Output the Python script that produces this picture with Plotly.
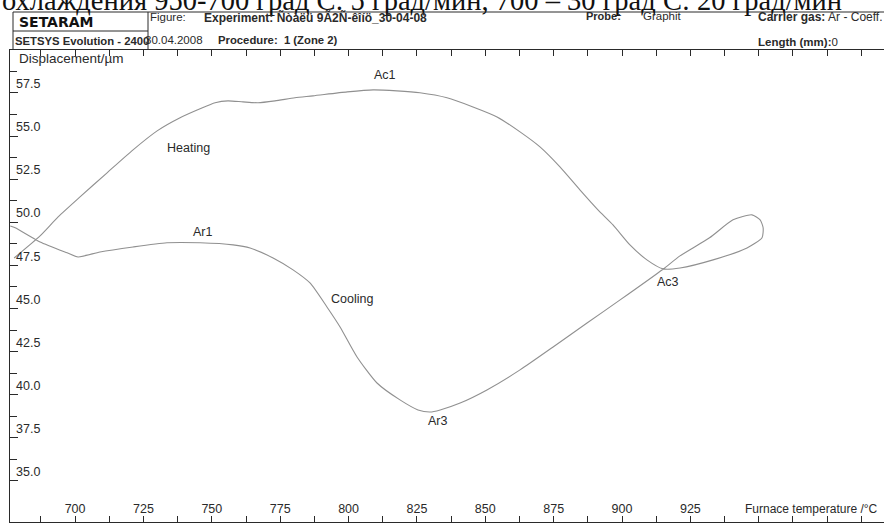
import plotly.graph_objects as go

# ---- data (furnace temperature °C, displacement µm) ----
temperature = [677.7, 687.2, 693.8, 701.8, 711.7, 721.2, 730.0, 738.4, 745.7, 751.2,
               755.9, 761.4, 766.9, 773.1, 780.4, 787.0, 799.5, 809.0, 817.7, 826.1,
               836.0, 845.5, 854.3, 862.7, 870.0, 877.3, 884.6, 891.2, 896.7, 902.9,
               909.1, 915.0, 921.2, 933.3, 945.7, 951.2, 951.6, 950.5, 947.5, 940.6,
               932.0, 921.2, 915.0, 899.3, 887.2, 874.8, 862.7, 850.6, 840.8, 833.5,
               829.8, 825.4, 818.8, 810.4, 803.1, 796.9, 792.1, 785.9, 779.7, 772.4,
               764.0, 757.8, 745.7, 733.6, 721.2, 709.1, 701.1, 697.1, 687.2, 678.1,
               676.3]
displacement = [47.93, 49.21, 50.31, 51.47, 52.87, 54.20, 55.30, 56.06, 56.58, 56.93,
                57.04, 56.98, 56.93, 57.04, 57.22, 57.33, 57.56, 57.68, 57.62, 57.51,
                57.22, 56.69, 56.11, 55.24, 54.37, 53.21, 51.88, 50.72, 49.85, 48.69,
                47.82, 47.30, 47.35, 47.82, 48.51, 49.10, 49.68, 50.14, 50.43, 50.14,
                49.10, 48.05, 47.28, 45.50, 44.16, 42.77, 41.44, 40.28, 39.52, 39.12,
                39.00, 39.12, 39.70, 40.68, 42.19, 43.93, 45.09, 46.48, 47.24, 47.93,
                48.51, 48.69, 48.81, 48.81, 48.57, 48.28, 47.99, 48.23, 48.86, 49.68,
                49.79]

x_tickvals = [700, 725, 750, 775, 800, 825, 850, 875, 900, 925, 950, 975]
x_ticktext = ["700", "725", "750", "775", "800", "825", "850", "875", "900", "925", "", ""]
y_tickvals = [35.0, 37.5, 40.0, 42.5, 45.0, 47.5, 50.0, 52.5, 55.0, 57.5]
y_ticktext = ["35.0", "37.5", "40.0", "42.5", "45.0", "47.5", "50.0", "52.5", "55.0", "57.5"]

point_labels = ["Ac1", "Heating", "Ar1", "Cooling", "Ar3", "Ac3"]
point_label_t = [813.3, 741.3, 746.8, 801.3, 832.7, 916.8]
point_label_d = [58.55, 54.32, 49.44, 45.56, 38.48, 46.54]

# ---- figure geometry (pixels) ----
W, H = 884, 525
ML, MR, MT, MB = 10, 0, 50, 3
PW, PH = W - ML - MR, H - MT - MB


def px(x):
    return (x - ML) / PW


def py(y):
    return (H - MB - y) / PH


INK = "#2a2a2a"
SANS = "Liberation Sans, Arial, sans-serif"

fig = go.Figure()
fig.add_trace(go.Scatter(
    x=temperature, y=displacement, mode="lines",
    line=dict(color="#909090", width=1.1, shape="spline", smoothing=0.6),
    hoverinfo="skip", showlegend=False,
))

for lab, t, d in zip(point_labels, point_label_t, point_label_d):
    fig.add_annotation(x=t, y=d, xref="x", yref="y", text=lab, showarrow=False,
                       font=dict(family=SANS, size=12.5, color=INK),
                       xanchor="center", yanchor="middle")

fig.update_xaxes(
    range=[676.2, 995.8], tickmode="array", tickvals=x_tickvals, ticktext=x_ticktext,
    ticks="inside", ticklen=6, tickcolor=INK, ticklabelposition="inside",
    tickfont=dict(family=SANS, size=12.5, color=INK),
    showline=True, linecolor=INK, linewidth=1, mirror="ticks",
    showgrid=False, zeroline=False, automargin=False,
    minor=dict(tickmode="linear", tick0=700, dtick=12.5, ticks="inside", ticklen=6, tickcolor=INK),
)
fig.update_yaxes(
    range=[32.62, 59.99], tickmode="array", tickvals=y_tickvals, ticktext=y_ticktext,
    ticks="inside", ticklen=8, tickcolor=INK, ticklabelposition="inside top",
    ticklabelstandoff=5,
    tickfont=dict(family=SANS, size=12.5, color=INK),
    showline=True, linecolor=INK, linewidth=1,
    showgrid=False, zeroline=False, automargin=False,
    minor=dict(tickmode="linear", tick0=35, dtick=1.25, ticks="inside", ticklen=7, tickcolor=INK),
)

# header frame lines
shapes = [
    dict(x0=px(13), x1=px(884), y0=py(12), y1=py(12)),
    dict(x0=px(13), x1=px(148), y0=py(31), y1=py(31)),
    dict(x0=px(148), x1=px(148), y0=py(12), y1=py(50)),
    dict(x0=px(13), x1=px(13), y0=py(12), y1=py(50)),
]
for s in shapes:
    fig.add_shape(type="line", xref="paper", yref="paper", line=dict(color=INK, width=1), **s)

header = [
    ("охлаждения 950-700 град С: 5 град/мин, 700 – 30 град С: 20 град/мин", 0, 0,
     dict(family="Liberation Serif, Times New Roman, serif", size=28.5, color="#111")),
    ("<b>SETARAM</b>", 17, 21.5, dict(family="DejaVu Sans, sans-serif", size=14, color="#111")),
    ("<b>SETSYS Evolution - 2400</b>", 13, 41, dict(family=SANS, size=11.3, color=INK)),
    ("Figure:", 148, 17, dict(family=SANS, size=11.5, color=INK)),
    ("30.04.2008", 143, 40, dict(family=SANS, size=11.5, color=INK)),
    ("<b>Experiment:</b> <b>Ñòàëü 9Ã2Ñ-êîíö_30-04-08</b>", 202, 17, dict(family=SANS, size=12, color=INK)),
    ("<b>Procedure:</b>  <b>1 (Zone 2)</b>", 216, 40, dict(family=SANS, size=11.3, color=INK)),
    ("<b>Probe:</b>", 584, 16, dict(family=SANS, size=11, color=INK)),
    ("Graphit", 641, 16, dict(family=SANS, size=11.5, color=INK)),
    ("<b>Carrier gas:</b> Ar - Coeff.", 756, 17, dict(family=SANS, size=12, color=INK)),
    ("<b>Length (mm):</b>0", 756, 42, dict(family=SANS, size=11.5, color=INK)),
    ("Displacement/µm", 17, 59, dict(family=SANS, size=13.5, color=INK)),
    ("Furnace temperature /°C", 743, 509, dict(family=SANS, size=12, color=INK)),
]
for text, x, y, f in header:
    fig.add_annotation(x=px(x), y=py(y), xref="paper", yref="paper", text=text,
                       showarrow=False, xanchor="left", yanchor="middle", font=f)

fig.update_layout(
    width=W, height=H, margin=dict(l=ML, r=MR, t=MT, b=MB),
    paper_bgcolor="white", plot_bgcolor="white", showlegend=False,
)

fig.write_html("out.html", config={"displayModeBar": False},
               post_script="document.body.style.margin='0';")
